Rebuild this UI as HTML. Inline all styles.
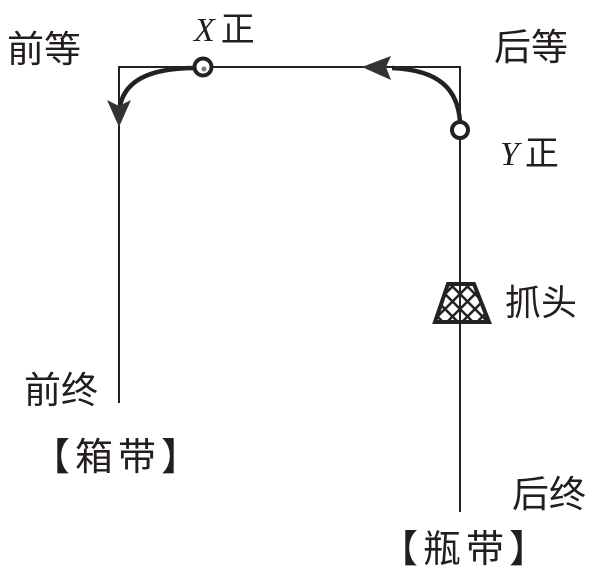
<!DOCTYPE html>
<html><head><meta charset="utf-8"><style>
html,body{margin:0;padding:0;background:#fff;}
svg{display:block;}
text{font-family:"Liberation Sans","Noto Sans CJK SC",sans-serif;fill:#231c22;}
</style></head><body>
<svg width="600" height="574" viewBox="0 0 600 574" xmlns="http://www.w3.org/2000/svg">
<g stroke="#222" fill="none">
<path d="M119 403 V67 H460 V512" stroke-width="2"/>
<path d="M196 68 C150 68 122 80 119 112" stroke-width="4.5"/>
<path d="M392 68 C440 70 458 90 460 122" stroke-width="4.5"/>
<circle cx="203" cy="67" r="8.5" stroke-width="4" fill="#fff"/>
<circle cx="460" cy="130" r="8" stroke-width="4" fill="#fff"/>
</g>
<circle cx="204" cy="69" r="2.5" fill="#777"/>
<polygon points="362,67 391,56 386,67 391,80" fill="#333"/>
<polygon points="119,127 107,100 119,106 131,100" fill="#333"/>
<defs><clipPath id="tz"><polygon points="448,284 474,284 489,322 435,322"/></clipPath></defs>
<g clip-path="url(#tz)" stroke="#222" stroke-width="2.5">
<path d="M420 284 L460 324 M435 284 L475 324 M450 284 L490 324 M465 284 L505 324 M405 284 L445 324"/>
<path d="M500 284 L460 324 M485 284 L445 324 M470 284 L430 324 M455 284 L415 324 M515 284 L475 324"/>
</g>
<polygon points="448,284 474,284 489,322 435,322" fill="none" stroke="#222" stroke-width="4"/>
<text x="7" y="62" font-size="37">前等</text>
<text x="194" y="41" font-size="34"><tspan font-family="Liberation Serif" font-style="italic">X</tspan><tspan dx="6">正</tspan></text>
<text x="494" y="60" font-size="37">后等</text>
<text x="500" y="165" font-size="34"><tspan font-family="Liberation Serif" font-style="italic">Y</tspan><tspan dx="6">正</tspan></text>
<text x="505" y="315" font-size="36">抓头</text>
<text x="24" y="403" font-size="37">前终</text>
<text x="32" y="470" font-size="38" letter-spacing="5">【箱带】</text>
<text x="512" y="507" font-size="37">后终</text>
<text x="380" y="562" font-size="38" letter-spacing="5">【瓶带】</text>
</svg>
</body></html>
